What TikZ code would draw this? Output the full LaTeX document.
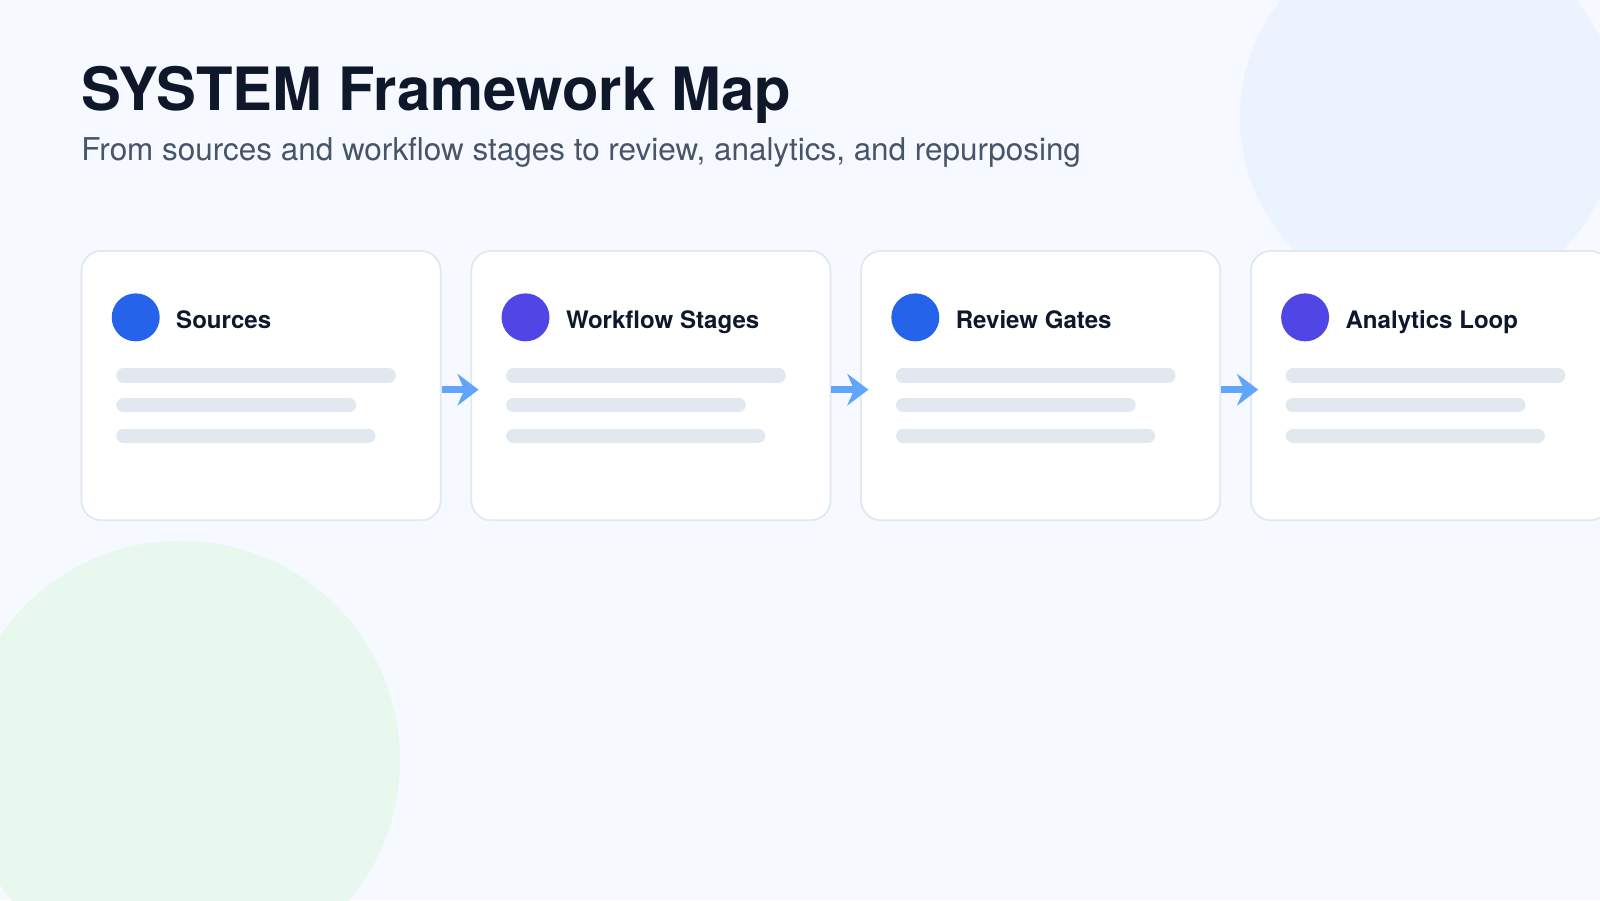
\documentclass[tikz,border=0pt]{standalone}
\usepackage{fontspec}
\setmainfont{TeX Gyre Heros}
\usetikzlibrary{arrows.meta,positioning}
\definecolor{bgc}{HTML}{F6F9FF}
\definecolor{blobblue}{HTML}{EBF3FE}
\definecolor{blobgreen}{HTML}{E8F8EF}
\definecolor{cardline}{HTML}{E2E8F0}
\definecolor{barc}{HTML}{E2E8F0}
\definecolor{dotblue}{HTML}{2563EB}
\definecolor{dotviolet}{HTML}{4F46E5}
\definecolor{arrowc}{HTML}{60A5FA}
\definecolor{titlec}{HTML}{0F172A}
\definecolor{subc}{HTML}{475569}
\begin{document}
\begin{tikzpicture}[x=0.010204cm,y=-0.010204cm]
%styles
\tikzset{card/.style={draw=cardline,fill=white,rounded corners=0.2cm,minimum width=352*0.010204cm,minimum height=264*0.010204cm,inner sep=0pt,line width=0.5pt},
  dot/.style={circle,inner sep=0pt,minimum size=47*0.010204cm},
  cardtitle/.style={anchor=base west,font=\fontsize{6.85}{8}\selectfont\bfseries,text=titlec,inner sep=0pt},
  bar/.style={barc,line width=14*0.010204cm,line cap=round},
  flow/.style={arrowc,line width=2pt,-{Stealth[length=6pt,width=9pt]}}}
%background
\fill[bgc] (0,0) rectangle (1568,882);
\useasboundingbox (0,0) rectangle (1568,882);
\begin{scope}
\clip (0,0) rectangle (1568,882);
\fill[blobblue] (1400,115) circle[radius=185];
\fill[blobgreen] (177,745) circle[radius=215];
\end{scope}
%titles
\node[anchor=base west,inner sep=0pt,text=titlec,font=\fontsize{17}{20}\selectfont\bfseries] (title) at (79,108) {SYSTEM Framework Map};
\node[anchor=base west,inner sep=0pt,text=subc,font=\fontsize{8.95}{10}\selectfont] (subtitle) at (79,157) {From sources and workflow stages to review, analytics, and repurposing};
%cards
\foreach \i/\x/\col/\lab in {1/79/dotblue/Sources,2/461/dotviolet/Workflow Stages,3/843/dotblue/Review Gates,4/1225/dotviolet/Analytics Loop}{
  \node[card,anchor=north west] (card\i) at (\x,245) {};
  \node[dot,fill=\col] (dot\i) at (\x+54,311) {};
  \node[cardtitle] (lab\i) at (\x+93,322) {\lab};
  \draw[bar] (\x+42,368) -- (\x+302,368);
  \draw[bar] (\x+42,397) -- (\x+263,397);
  \draw[bar] (\x+42,427) -- (\x+282,427);
}
%arrows
\foreach \a/\b in {1/2,2/3,3/4}{
  \coordinate (s\a) at ([yshift=-4*0.010204cm]card\a.east);
  \coordinate (t\a) at ([yshift=-4*0.010204cm,xshift=8*0.010204cm]card\b.west);
  \draw[flow] (s\a) -- (t\a);
}
\end{tikzpicture}
\end{document}
